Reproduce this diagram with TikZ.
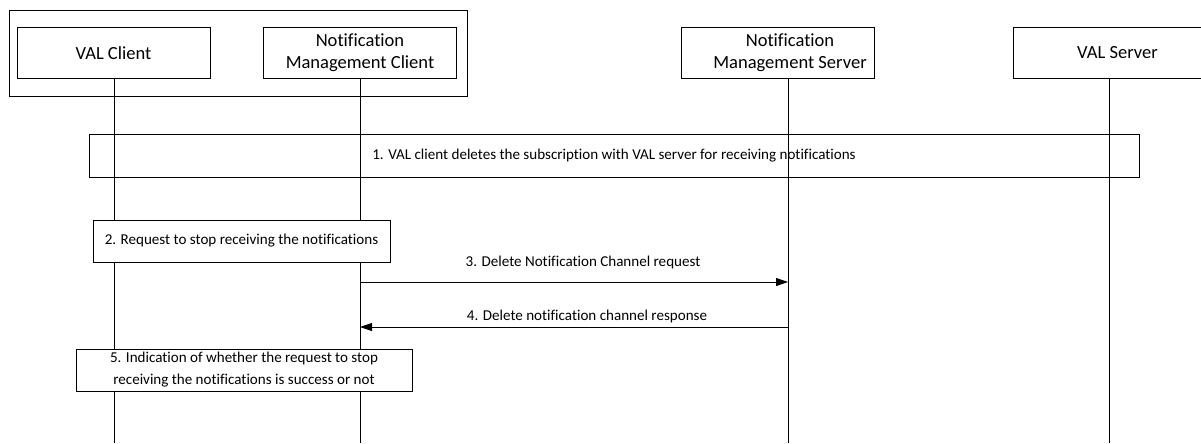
\documentclass[tikz,border=0pt]{standalone}
\usepackage{fontspec}
\setmainfont{Carlito}[Ligatures=NoCommon]
\usetikzlibrary{arrows.meta}

\begin{document}
\begin{tikzpicture}[x=0.75pt,y=-0.75pt,line width=0.6pt,
  entity/.style={draw,minimum width=144.75pt,minimum height=38.25pt,inner sep=0pt},
  entitytext/.style={align=center,inner sep=0pt,font=\fontsize{13.9}{16.5}\selectfont},
  stepbox/.style={draw,align=center,inner sep=0pt,minimum height=31.5pt,
    font=\fontsize{11.3}{16.5}\selectfont},
  msg/.style={font=\fontsize{11.3}{16.5}\selectfont},
  >={Triangle[length=9pt,width=6pt]}]
  \useasboundingbox (0,0) rectangle (1201,443);
  \node[draw,minimum width=343.5pt,minimum height=64.5pt] (grp) at (238,53) {};
  \foreach \x/\dx/\name/\txt in {113.5/0/val/VAL Client,360/0/nmc/{Notification\\Management Client},
      778/12/nms/{Notification\\Management Server},1109.5/8/vals/VAL Server} {
    \node[entity] (\name) at (\x,53) {};
    \node[entitytext] (\name-t) at ([xshift=\dx*0.75pt]\name.center) {\txt};
  }

  % lifelines
  \foreach \name/\x in {val/114,nmc/360,nms/788,vals/1109} {
    \coordinate (\name-end) at (\x,443);
    \draw (\name-end |- \name.south) -- (\name-end);
  }

  \node[stepbox,minimum width=787.5pt,minimum height=32.25pt] (s1) at (614,155.5)
    {1. VAL client deletes the subscription with VAL server for receiving notifications};
  \node[stepbox,fill=white,minimum width=222.75pt] (s2) at (241.5,241)
    {2. Request to stop receiving the notifications};

  \coordinate (a3) at (0,282);
  \coordinate (a4) at (0,327);
  \draw[->] (nmc-end |- a3) -- (nms-end |- a3);
  \node[msg] (m3) at (583,262) {3. Delete Notification Channel request};
  \draw[->] (nms-end |- a4) -- (nmc-end |- a4);
  \node[msg] (m4) at (587,316) {4. Delete notification channel response};

  \node[stepbox,fill=white,minimum width=252pt] (s5) at (244,370)
    {5. Indication of whether the request to stop\\receiving the notifications is success or not};
\end{tikzpicture}
\end{document}
